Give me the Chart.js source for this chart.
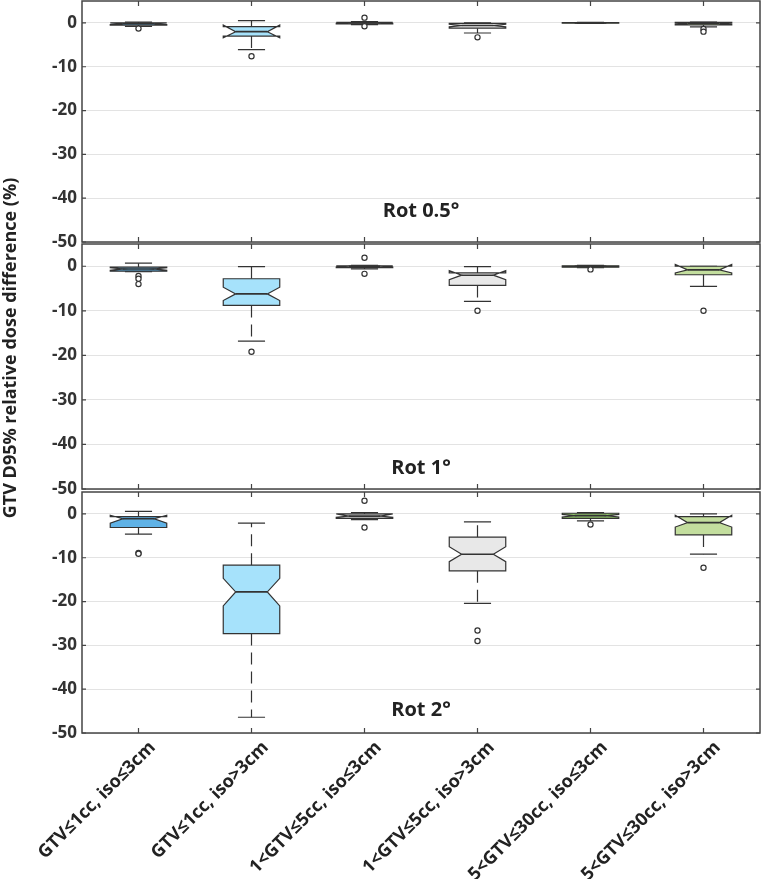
<!DOCTYPE html>
<html>
<head>
<meta charset="utf-8">
<script src="https://cdn.jsdelivr.net/npm/chart.js@4.4.0/dist/chart.umd.min.js"></script>
<style>
body{margin:0;background:#fff;}
#wrap{position:relative;width:762px;height:879px;}
canvas{position:absolute;left:0;top:0;}
</style>
</head>
<body>
<div id="wrap">
<canvas id="p1" width="762" height="879"></canvas>
<canvas id="p2" width="762" height="879"></canvas>
<canvas id="p3" width="762" height="879"></canvas>
</div>
<script>
var categories = ['GTV\u22641cc, iso\u22643cm','GTV\u22641cc, iso>3cm','1<GTV\u22645cc, iso\u22643cm','1<GTV\u22645cc, iso>3cm','5<GTV\u226430cc, iso\u22643cm','5<GTV\u226430cc, iso>3cm'];
var panelTitles = ['Rot 0.5\u00b0','Rot 1\u00b0','Rot 2\u00b0'];
var yTicks = [0,-10,-20,-30,-40,-50];

// one row per panel (Rot 0.5, Rot 1, Rot 2), one value per category
var whiskerLow = [
  [-0.8,-6.1,-0.4,-2.3,-0.1,-0.9],
  [-1.2,-16.8,-0.6,-7.9,-0.3,-4.5],
  [-4.6,-46.4,-1.3,-20.4,-1.6,-9.2]
];
var q1 = [
  [-0.5,-3.0,-0.2,-1.2,-0.05,-0.45],
  [-1.1,-8.8,-0.3,-4.3,-0.2,-1.9],
  [-3.1,-27.3,-1.0,-13.0,-1.0,-4.8]
];
var notchLow = [
  [-0.4,-3.4,-0.1,-0.9,-0.03,-0.3],
  [-0.9,-7.7,-0.2,-3.0,-0.1,-1.5],
  [-2.1,-21.0,-0.8,-10.9,-0.7,-3.0]
];
var median = [
  [-0.2,-2.0,0,-0.6,0,-0.15],
  [-0.6,-6.2,0,-2.0,0,-0.8],
  [-1.1,-17.8,-0.5,-9.2,-0.4,-2.0]
];
var notchHigh = [
  [0,-0.5,0.1,-0.3,0.03,0.0],
  [-0.3,-4.7,0.1,-1.0,0.05,0.4],
  [-0.3,-14.7,0.0,-7.5,-0.1,-0.3]
];
var q3 = [
  [0,-0.84,0.1,-0.1,0.05,0.1],
  [-0.2,-2.8,0.1,-1.5,0.1,0],
  [-0.6,-11.7,0,-5.3,0.15,-0.6]
];
var whiskerHigh = [
  [0.2,0.5,0.3,0,0.1,0.2],
  [0.7,-0.1,0.2,-0.1,0.2,0],
  [0.6,-2.1,0.3,-1.8,0.3,0]
];
var outliers = [
  [[-1.3],[-7.6],[1.2,-0.75],[-3.3],[],[-1.4,-2.0]],
  [[-2.2,-2.8,-4.0],[-19.2],[1.9,-1.7],[-10.0],[-0.7],[-10.0]],
  [[-8.9,-9.1],[],[3.0,-3.1],[-26.6,-29.0],[-2.4],[-12.3]]
];

var boxColors = ['#5fb2e6','#a6e2fb','#d4d4d4','#e8e8e8','#8fc06a','#c3de9e'];
var lineColor = '#333';
var fontFamily = '"Open Sans", Arial, sans-serif';

var boxPlugin = {
  id: 'boxes',
  beforeDatasetsDraw(chart, args, opts) {
    var ctx = chart.ctx, x = chart.scales.x, y = chart.scales.y;
    var p = opts.panel;
    var step = x.getPixelForValue(1) - x.getPixelForValue(0);
    var hw = step * 0.25, cap = step * 0.12, inset = step * 0.11;
    ctx.save();
    for (var i = 0; i < categories.length; i++) {
      var cx = x.getPixelForValue(i);
      var yl = y.getPixelForValue(whiskerLow[p][i]), yh = y.getPixelForValue(whiskerHigh[p][i]);
      var y1 = y.getPixelForValue(q1[p][i]), y3 = y.getPixelForValue(q3[p][i]);
      var ym = y.getPixelForValue(median[p][i]);
      var nl = y.getPixelForValue(notchLow[p][i]), nh = y.getPixelForValue(notchHigh[p][i]);
      ctx.strokeStyle = lineColor;
      ctx.lineWidth = 1.2;
      // whiskers
      ctx.setLineDash([12, 7]);
      ctx.beginPath();
      ctx.moveTo(cx, y3); ctx.lineTo(cx, yh);
      ctx.moveTo(cx, y1); ctx.lineTo(cx, yl);
      ctx.stroke();
      ctx.setLineDash([]);
      ctx.beginPath();
      ctx.moveTo(cx - cap, yh); ctx.lineTo(cx + cap, yh);
      ctx.moveTo(cx - cap, yl); ctx.lineTo(cx + cap, yl);
      ctx.stroke();
      // notched box
      ctx.beginPath();
      ctx.moveTo(cx - hw, y3);
      ctx.lineTo(cx - hw, nh);
      ctx.lineTo(cx - hw + inset, ym);
      ctx.lineTo(cx - hw, nl);
      ctx.lineTo(cx - hw, y1);
      ctx.lineTo(cx + hw, y1);
      ctx.lineTo(cx + hw, nl);
      ctx.lineTo(cx + hw - inset, ym);
      ctx.lineTo(cx + hw, nh);
      ctx.lineTo(cx + hw, y3);
      ctx.closePath();
      ctx.fillStyle = boxColors[i];
      ctx.fill();
      ctx.stroke();
      ctx.lineWidth = 1.6;
      ctx.beginPath();
      ctx.moveTo(cx - hw + inset, ym); ctx.lineTo(cx + hw - inset, ym);
      ctx.stroke();
    }
    ctx.restore();
  },
  afterDraw(chart, args, opts) {
    var ctx = chart.ctx, a = chart.chartArea, x = chart.scales.x, y = chart.scales.y;
    ctx.save();
    ctx.strokeStyle = '#444';
    ctx.lineWidth = 1.5;
    ctx.strokeRect(a.left, a.top, a.right - a.left, a.bottom - a.top);
    ctx.lineWidth = 1.2;
    ctx.beginPath();
    for (var i = 0; i < categories.length; i++) {
      var cx = x.getPixelForValue(i);
      ctx.moveTo(cx, a.top); ctx.lineTo(cx, a.top + 5);
      ctx.moveTo(cx, a.bottom); ctx.lineTo(cx, a.bottom - 5);
    }
    yTicks.forEach(function (t) {
      var ty = y.getPixelForValue(t);
      ctx.moveTo(a.left, ty); ctx.lineTo(a.left + 4, ty);
      ctx.moveTo(a.right, ty); ctx.lineTo(a.right - 4, ty);
    });
    ctx.stroke();
    // panel title
    ctx.fillStyle = '#222';
    ctx.font = 'bold 20px ' + fontFamily;
    ctx.textAlign = 'center';
    ctx.textBaseline = 'middle';
    ctx.fillText(panelTitles[opts.panel], (a.left + a.right) / 2, a.bottom - opts.titleGap);
    if (opts.yLabel) {
      ctx.translate(11, 348);
      ctx.rotate(-Math.PI / 2);
      ctx.font = 'bold 18px ' + fontFamily;
      ctx.fillText(opts.yLabel, 0, 0);
    }
    ctx.restore();
  }
};

function makePanel(id, p, top, bottom, showX, titleGap, yLabel) {
  var pts = [];
  outliers[p].forEach(function (vals, i) {
    vals.forEach(function (v) { pts.push({x: categories[i], y: v}); });
  });
  return new Chart(document.getElementById(id), {
    type: 'line',
    data: {
      labels: categories,
      datasets: [{
        data: pts,
        showLine: false,
        clip: false,
        pointStyle: 'circle',
        pointRadius: 2.6,
        pointBorderWidth: 1.2,
        pointBorderColor: lineColor,
        pointBackgroundColor: '#fff'
      }]
    },
    plugins: [boxPlugin],
    options: {
      responsive: false,
      animation: false,
      devicePixelRatio: 1,
      layout: {autoPadding: false, padding: {left: 0, right: 2, top: top, bottom: 0}},
      plugins: {
        legend: {display: false},
        tooltip: {enabled: false},
        boxes: {panel: p, titleGap: titleGap, yLabel: yLabel}
      },
      scales: {
        x: {
          type: 'category',
          offset: true,
          grid: {display: false, drawTicks: false},
          border: {display: false},
          ticks: {
            display: showX,
            maxRotation: 45, minRotation: 45,
            padding: 4, labelOffset: 14,
            color: '#222',
            font: {family: fontFamily, size: 18, weight: 'bold'}
          },
          afterFit: function (s) { s.height = 879 - bottom; }
        },
        y: {
          min: -50, max: 5,
          grid: {color: '#e3e3e3', drawTicks: false},
          border: {display: false},
          ticks: {
            stepSize: 10, padding: 5, color: '#333',
            font: {family: fontFamily, size: 17, weight: 'bold'}
          },
          afterBuildTicks: function (s) {
            s.ticks = s.ticks.filter(function (t) { return t.value % 10 === 0; });
          },
          afterFit: function (s) {
            s.width = 82;
            s.paddingTop = 0;
            s.paddingBottom = 0;
          }
        }
      }
    }
  });
}

makePanel('p1', 0, 1, 242, false, 31, null);
makePanel('p2', 1, 244, 489, false, 21, 'GTV D95% relative dose difference (%)');
makePanel('p3', 2, 492, 733, true, 23, null);
</script>
</body>
</html>
